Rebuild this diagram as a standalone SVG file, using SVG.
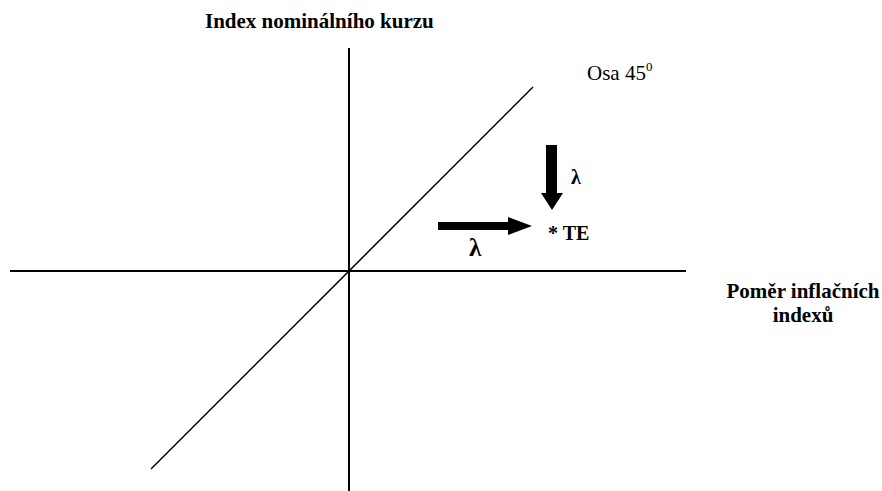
<svg xmlns="http://www.w3.org/2000/svg" width="882" height="491" viewBox="0 0 882 491">
<style>
.t{font-family:"Liberation Serif","Times New Roman",serif;fill:#000}
.b{font-weight:bold}
.ax{stroke:#000;stroke-width:2;fill:none}
.dg{stroke:#000;stroke-width:1.5;fill:none}
.ar{fill:#000}
</style>
<rect width="882" height="491" fill="#fff"/>
<g id="connectors">
<line class="ax" x1="349" y1="48" x2="349" y2="491"/>
<line class="ax" x1="10" y1="271" x2="686" y2="271"/>
<line class="dg" x1="151" y1="469" x2="533" y2="87"/>
<polygon class="ar" points="438,222 508,222 508,217 532,226 508,235 508,230 438,230"/>
<polygon class="ar" points="546,145 557,145 557,193 563,193 552,210 541,193 546,193"/>
</g>
<g id="title-y"><text class="t b" x="205" y="28" font-size="21">Index nominálního kurzu</text></g>
<g id="axis45"><text class="t" x="587" y="80" font-size="21">Osa 45<tspan font-size="13" dy="-9">0</tspan></text></g>
<g id="title-x"><text class="t b" x="803" y="298" font-size="21" text-anchor="middle">Poměr inflačních</text><text class="t b" x="803" y="322" font-size="21" text-anchor="middle">indexů</text></g>
<g id="lambda1"><text class="t b" x="571" y="184" font-size="20">λ</text></g>
<g id="lambda2"><text class="t b" x="469" y="256" font-size="25">λ</text></g>
<g id="te"><text class="t b" x="548" y="240" font-size="20">* TE</text></g>
</svg>
